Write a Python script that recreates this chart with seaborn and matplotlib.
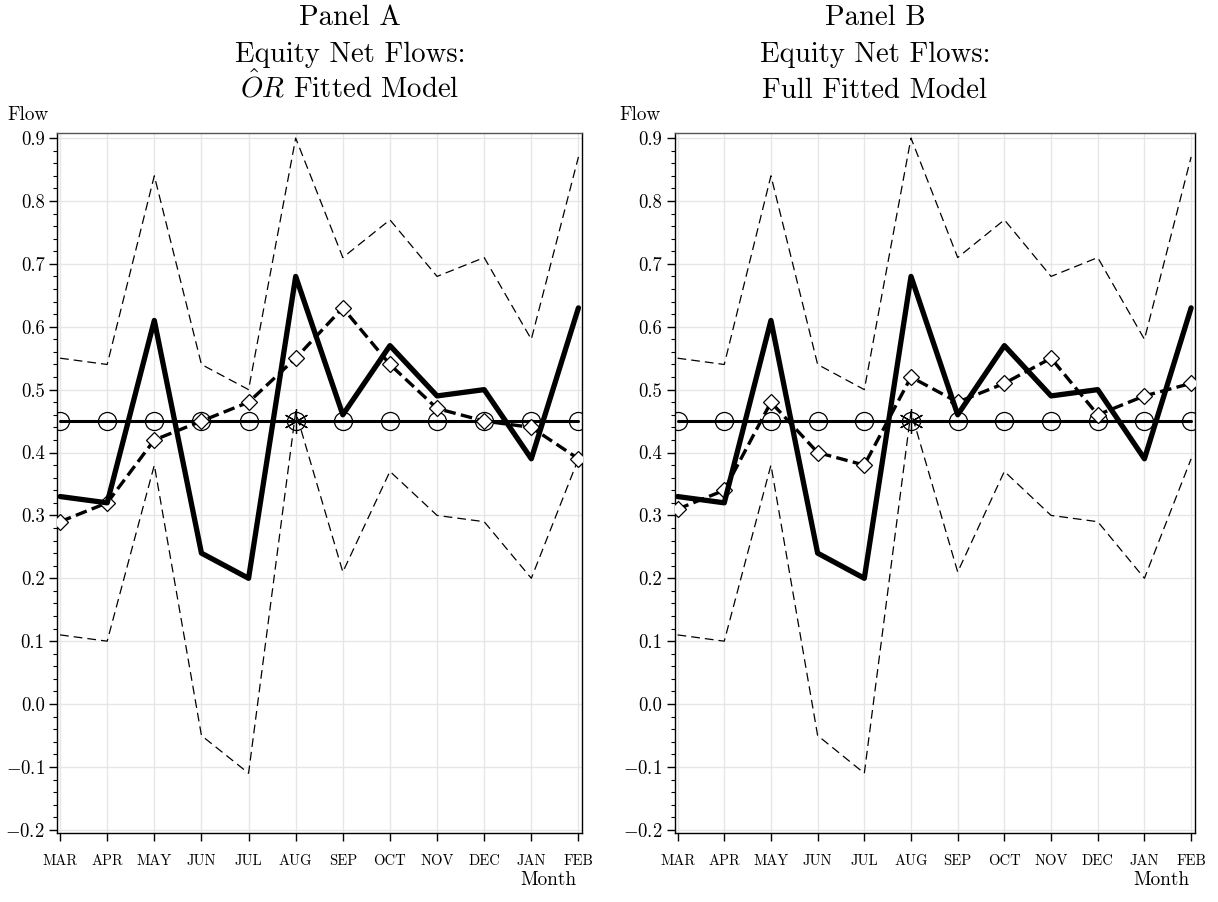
import numpy as np
import pandas as pd
import matplotlib
matplotlib.use("Agg")
import matplotlib.pyplot as plt
from matplotlib.ticker import MultipleLocator, AutoMinorLocator
import seaborn as sns

months = ["MAR", "APR", "MAY", "JUN", "JUL", "AUG", "SEP", "OCT", "NOV", "DEC", "JAN", "FEB"]
actual = [0.33, 0.32, 0.61, 0.24, 0.20, 0.68, 0.46, 0.57, 0.49, 0.50, 0.39, 0.63]
upper = [0.55, 0.54, 0.84, 0.54, 0.50, 0.90, 0.71, 0.77, 0.68, 0.71, 0.58, 0.87]
lower = [0.11, 0.10, 0.38, -0.05, -0.11, 0.465, 0.21, 0.37, 0.30, 0.29, 0.20, 0.39]
fitted_a = [0.29, 0.32, 0.42, 0.45, 0.48, 0.55, 0.63, 0.54, 0.47, 0.45, 0.44, 0.39]
fitted_b = [0.31, 0.34, 0.48, 0.40, 0.38, 0.52, 0.48, 0.51, 0.55, 0.46, 0.49, 0.51]
baseline = [0.45] * 12
star_month = "AUG"
titles = [["Panel A", "Equity Net Flows:", "$\\hat{O}R$ Fitted Model"],
          ["Panel B", "Equity Net Flows:", "Full Fitted Model"]]

sns.set_style("white")
plt.rcParams["font.family"] = ["cmr10"]
plt.rcParams["mathtext.fontset"] = "cm"
plt.rcParams["axes.formatter.use_mathtext"] = True
plt.rcParams["text.color"] = "black"
plt.rcParams["xtick.color"] = "black"
plt.rcParams["ytick.color"] = "black"
plt.rcParams["axes.labelcolor"] = "black"

W, H = 1218, 902
fig = plt.figure(figsize=(W / 100, H / 100), dpi=100)
pos = [[0.047, 0.0765, 0.431, 0.776], [0.554, 0.0765, 0.427, 0.776]]
title_cx = [350, 875]
flow_x = [7, 619]
month_x = [576, 1189]

x = np.arange(len(months))
for i, fitted in enumerate([fitted_a, fitted_b]):
    ax = fig.add_axes(pos[i])
    df = pd.DataFrame({"x": x, "actual": actual, "upper": upper, "lower": lower,
                       "fitted": fitted, "base": baseline})
    ax.grid(True, color="#e6e6e6", lw=1.0, zorder=0)
    ax.set_axisbelow(True)
    sns.lineplot(data=df, x="x", y="upper", ax=ax, color="black", lw=0.9,
                 linestyle=(0, (7, 4)), zorder=3)
    sns.lineplot(data=df, x="x", y="lower", ax=ax, color="black", lw=0.9,
                 linestyle=(0, (7, 4)), zorder=3)
    sns.lineplot(data=df, x="x", y="base", ax=ax, color="black", lw=2.2,
                 marker="o", markersize=13, markerfacecolor="none",
                 markeredgecolor="black", markeredgewidth=0.9, zorder=4)
    sns.lineplot(data=df, x="x", y="fitted", ax=ax, color="black", lw=2.4,
                 linestyle=(0, (3.5, 1.6)), marker="D", markersize=8,
                 markerfacecolor="white", markeredgecolor="black",
                 markeredgewidth=0.9, zorder=5)
    sns.lineplot(data=df, x="x", y="actual", ax=ax, color="black", lw=3.8,
                 zorder=6)
    si = months.index(star_month)
    ax.plot([x[si]], [baseline[si]], marker=(6, 2, 0), markersize=18,
            color="black", markeredgewidth=0.9, zorder=7, linestyle="none")

    ax.set_xlim(-0.06, 11.08)
    ax.set_ylim(-0.205, 0.908)
    ax.set_xticks(x)
    ax.set_xticklabels(months, fontsize=10.5)
    ax.yaxis.set_major_locator(MultipleLocator(0.1))
    ax.yaxis.set_minor_locator(AutoMinorLocator(5))
    ax.yaxis.set_major_formatter(matplotlib.ticker.FuncFormatter(
        lambda v, p: ("$-$" if v < -1e-9 else "") + f"{abs(v):.1f}"))
    ax.tick_params(axis="y", which="major", labelsize=13.5, length=6, width=1,
                   direction="out", left=True, pad=3)
    ax.tick_params(axis="y", which="minor", length=3, width=0.8, left=True)
    ax.tick_params(axis="x", which="major", length=6, width=1, bottom=True,
                   direction="out", pad=9)
    for s in ax.spines.values():
        s.set_visible(True)
        s.set_color("black")
        s.set_linewidth(1.0)
    ax.spines["top"].set_color("#555555")
    ax.set_xlabel("")
    ax.set_ylabel("")
    fig.text(flow_x[i] / W, 1 - 120 / H, "Flow", fontsize=13.8,
             ha="left", va="baseline")
    fig.text(month_x[i] / W, 1 - 885 / H, "Month", fontsize=13.8,
             ha="right", va="baseline")
    for line, b in zip(titles[i], [25, 61.5, 98]):
        fig.text(title_cx[i] / W, 1 - b / H, line, fontsize=20.7,
                 ha="center", va="baseline")

fig.savefig("out.png", dpi=100)
